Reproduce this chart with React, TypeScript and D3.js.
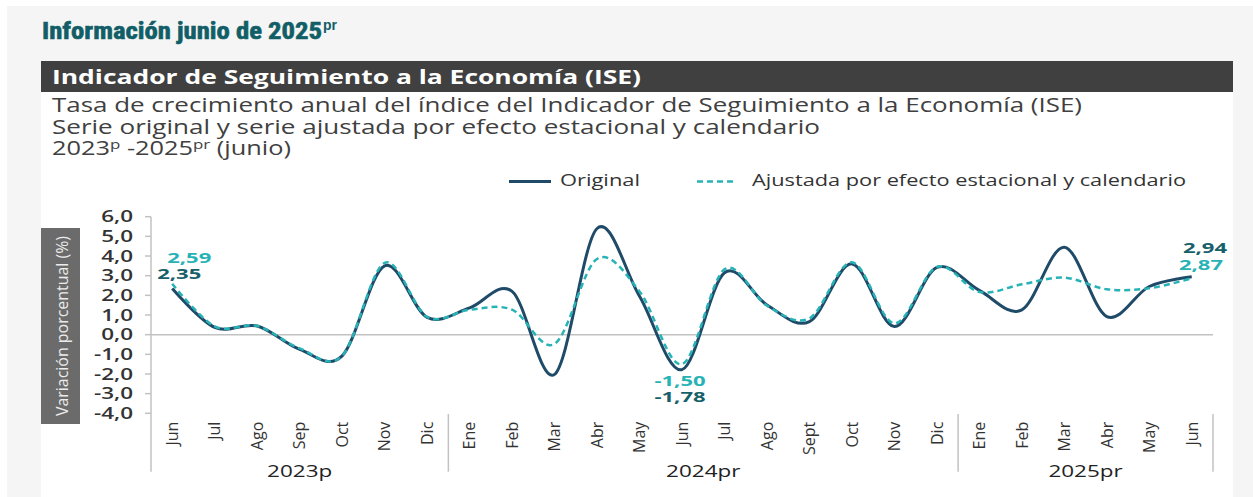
import React from 'react';
import * as d3 from 'd3';

// months shown on the x axis (Jun 2023 .. Jun 2025)
const months = [
  'Jun', 'Jul', 'Ago', 'Sep', 'Oct', 'Nov', 'Dic',
  'Ene', 'Feb', 'Mar', 'Abr', 'May', 'Jun', 'Jul', 'Ago', 'Sept', 'Oct', 'Nov', 'Dic',
  'Ene', 'Feb', 'Mar', 'Abr', 'May', 'Jun',
];
const yearLabels = ['2023p', '2024pr', '2025pr'];
const yearStart = [0, 7, 19];
const yearEnd = [6, 18, 24];

const original = [
  2.35, 0.37, 0.44, -0.75, -1.08, 3.5, 0.88,
  1.36, 2.2, -2.02, 5.4, 1.95, -1.78, 3.15, 1.51, 0.66, 3.6, 0.41, 3.42,
  2.25, 1.26, 4.45, 0.92, 2.45, 2.94,
];
const adjusted = [
  2.59, 0.42, 0.44, -0.7, -1.08, 3.65, 0.9,
  1.27, 1.27, -0.47, 3.85, 2.2, -1.5, 3.32, 1.48, 0.83, 3.68, 0.57, 3.45,
  2.17, 2.56, 2.9, 2.31, 2.36, 2.87,
];
const yTicks = [6, 5, 4, 3, 2, 1, 0, -1, -2, -3, -4];

const W = 1253;
const H = 497;
const navy = '#1f4b69';
const teal = '#27b3b6';
const darkTeal = '#17606a';
const axisGray = '#c2c2c2';
const font = "'Open Sans', 'DejaVu Sans', sans-serif";

const locale = d3.formatLocale({decimal: ',', thousands: '.', grouping: [3], currency: ['$', ''], minus: '-'});
const fmt1 = locale.format('.1f');
const fmt2 = locale.format('.2f');

function SText(props: any) {
  const {x, y, sx = 1, rot, children, ...rest} = props;
  const tr = `translate(${x},${y})${rot ? ` rotate(${rot})` : ''} scale(${sx},1)`;
  return (
    <text transform={tr} fontFamily={font} {...rest}>
      {children}
    </text>
  );
}

export default function App() {
  const x = d3.scaleBand<number>().domain(d3.range(months.length)).range([151, 1213]);
  const y = d3.scaleLinear().domain([-4, 6]).range([413.3, 216.7]);
  const cx = (i: number) => (x(i) as number) + x.bandwidth() / 2;
  const line = d3
    .line<number>()
    .x((_, i) => cx(i))
    .y(d => y(d))
    .curve(d3.curveCardinal.tension(0));

  const last = months.length - 1;
  const minIdx = 12;

  return (
    <svg width={W} height={H} style={{position: 'absolute', left: 0, top: 0}}>
      <rect x={7} y={6} width={W - 7} height={H - 6} fill="#f5f5f5" />
      <rect x={41} y={92} width={1192} height={H - 92} fill="#ffffff" />
      <rect x={41} y={61} width={1192} height={31} fill="#404040" />

      {/* title */}
      <text
        x={42}
        y={39}
        fontFamily="'Liberation Sans Narrow', 'Roboto Condensed', 'Liberation Sans', sans-serif"
        fontWeight={700}
        fontSize={24}
        fill="#115e67"
        stroke="#115e67"
        strokeWidth={0.6}
        textLength={280}
        lengthAdjust="spacingAndGlyphs"
      >
        Información junio de 2025
      </text>
      <text
        x={323}
        y={30}
        fontFamily="'Liberation Sans Narrow', 'Liberation Sans', sans-serif"
        fontWeight={700}
        fontSize={14}
        fill="#115e67"
      >
        pr
      </text>

      <text x={52} y={84} fontFamily={font} fontWeight={700} fontSize={19.5} fill="#ffffff"
        textLength={589} lengthAdjust="spacingAndGlyphs">
        Indicador de Seguimiento a la Economía (ISE)
      </text>
      <text x={52} y={112} fontFamily={font} fontSize={19.5} fill="#404040"
        textLength={1030} lengthAdjust="spacingAndGlyphs">
        Tasa de crecimiento anual del índice del Indicador de Seguimiento a la Economía (ISE)
      </text>
      <text x={52} y={133.5} fontFamily={font} fontSize={19.5} fill="#404040"
        textLength={768} lengthAdjust="spacingAndGlyphs">
        Serie original y serie ajustada por efecto estacional y calendario
      </text>
      <SText x={52} y={155} sx={1.3} fontSize={19.5} fill="#404040">
        2023
        <tspan fontSize={13} dy={-6}>p</tspan>
        <tspan dy={6}> -2025</tspan>
        <tspan fontSize={13} dy={-6}>pr</tspan>
        <tspan dy={6}> (junio)</tspan>
      </SText>

      {/* legend */}
      <line x1={509} x2={551} y1={181.5} y2={181.5} stroke={navy} strokeWidth={3} />
      <text x={560} y={186} fontFamily={font} fontSize={17} fill="#333"
        textLength={80} lengthAdjust="spacingAndGlyphs">Original</text>
      <line x1={697} x2={737} y1={181.5} y2={181.5} stroke={teal} strokeWidth={2.5} strokeDasharray="6,4" />
      <text x={752} y={186} fontFamily={font} fontSize={17} fill="#333"
        textLength={434} lengthAdjust="spacingAndGlyphs">
        Ajustada por efecto estacional y calendario
      </text>

      {/* y axis title box */}
      <rect x={41} y={228} width={39} height={196} fill="#6b6b6b" />
      <SText x={61} y={326} rot={-90} fontSize={17} fill="#ececec" textAnchor="middle"
        dominantBaseline="central" textLength={180} lengthAdjust="spacingAndGlyphs">
        Variación porcentual (%)
      </SText>

      {/* y axis */}
      <line x1={151} x2={151} y1={y(6)} y2={471.7} stroke={axisGray} strokeWidth={1.5} />
      {yTicks.map(t => (
        <g key={t}>
          <line x1={145} x2={151} y1={y(t)} y2={y(t)} stroke={axisGray} strokeWidth={1.5} />
          <SText x={133} y={y(t)} sx={1.45} fontSize={15.5} fontWeight={600} fill="#333"
            textAnchor="end" dy="0.36em">
            {fmt1(t)}
          </SText>
        </g>
      ))}
      <line x1={151} x2={1213} y1={y(0)} y2={y(0)} stroke={axisGray} strokeWidth={1.5} />

      {/* x axis */}
      {months.map((m, i) => (
        <SText key={i} x={cx(i)} y={421.7} rot={-90} sx={1.0} fontSize={16} fill="#333"
          textAnchor="end" dy="0.36em">
          {m}
        </SText>
      ))}
      {yearLabels.map((lab, k) => {
        const x0 = x(yearStart[k]) as number;
        const x1 = (x(yearEnd[k]) as number) + x.bandwidth();
        return (
          <g key={lab}>
            {k > 0 && <line x1={x0} x2={x0} y1={414} y2={471.7} stroke={axisGray} strokeWidth={1.5} />}
            <SText x={(x0 + x1) / 2} y={477} sx={1.45} fontSize={15.5} fill="#222" textAnchor="middle">
              {lab}
            </SText>
          </g>
        );
      })}
      <line x1={1213} x2={1213} y1={414} y2={471.7} stroke={axisGray} strokeWidth={1.5} />

      {/* series */}
      <path d={line(original) ?? ''} fill="none" stroke={navy} strokeWidth={3} strokeLinejoin="round" />
      <path d={line(adjusted) ?? ''} fill="none" stroke={teal} strokeWidth={2.5} strokeDasharray="6,4" />

      {/* data labels */}
      <SText x={cx(0) - 5} y={y(adjusted[0]) - 21} sx={1.47} fontSize={15} fontWeight={700} fill={teal}>
        {fmt2(adjusted[0])}
      </SText>
      <SText x={cx(0) - 15} y={y(original[0]) - 9.5} sx={1.47} fontSize={15} fontWeight={700} fill={darkTeal}>
        {fmt2(original[0])}
      </SText>
      <SText x={cx(minIdx) - 2} y={386} sx={1.47} fontSize={15} fontWeight={700} fill={teal} textAnchor="middle">
        {fmt2(adjusted[minIdx])}
      </SText>
      <SText x={cx(minIdx) - 2} y={401.5} sx={1.47} fontSize={15} fontWeight={700} fill={darkTeal} textAnchor="middle">
        {fmt2(original[minIdx])}
      </SText>
      <SText x={1227} y={253} sx={1.47} fontSize={15} fontWeight={700} fill={darkTeal} textAnchor="end">
        {fmt2(original[last])}
      </SText>
      <SText x={1223} y={270} sx={1.47} fontSize={15} fontWeight={700} fill={teal} textAnchor="end">
        {fmt2(adjusted[last])}
      </SText>
    </svg>
  );
}
